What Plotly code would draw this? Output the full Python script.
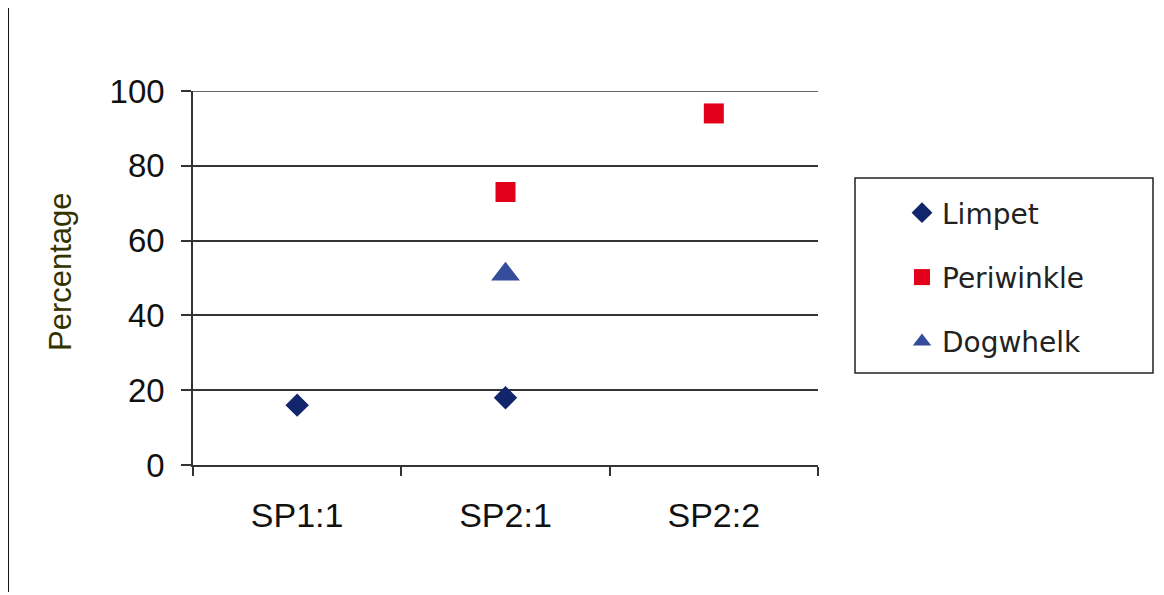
import plotly.graph_objects as go

categories = ["SP1:1", "SP2:1", "SP2:2"]
limpet = [16, 18, None]
periwinkle = [None, 73, 94]
dogwhelk = [None, 51, None]
y_ticks = [0, 20, 40, 60, 80, 100]

W, H = 1164, 595
OFF = 8  # page body offset
L, R, T, B = 193 - OFF, 818 - OFF, 91 - OFF, 465 - OFF

def px(x):
    return (x - OFF - L) / (R - L)

def py(y):
    return (B - (y - OFF)) / (B - T)

fig = go.Figure()
fig.add_trace(go.Scatter(x=categories, y=limpet, mode="markers", name="Limpet",
                         legendgroup="a",
                         marker=dict(symbol="diamond", size=18, color="#10256b",
                                     line=dict(width=0))))
fig.add_trace(go.Scatter(x=categories, y=periwinkle, mode="markers", name="Periwinkle",
                         legendgroup="b",
                         marker=dict(symbol="square", size=20, color="#e2001a",
                                     line=dict(width=0))))
fig.add_trace(go.Scatter(x=categories, y=dogwhelk, mode="markers", name="Dogwhelk",
                         legendgroup="c",
                         marker=dict(symbol="triangle-up", size=25, color="#354c9c",
                                     line=dict(width=0))))

fig.update_layout(
    width=W, height=H,
    margin=dict(l=L, r=W - R, t=T, b=H - B, pad=0),
    paper_bgcolor="white", plot_bgcolor="white",
    showlegend=True,
    legend=dict(x=px(902), y=py(188), xanchor="left", yanchor="top",
                font=dict(family="DejaVu Sans", size=28, color="#222222"),
                bgcolor="rgba(0,0,0,0)", borderwidth=0,
                tracegroupgap=25, itemsizing="trace"),
    xaxis=dict(type="category", range=[-0.5, 2.5], showgrid=False,
               showline=True, linecolor="#333333", linewidth=1.5,
               ticks="outside", tickson="boundaries", ticklen=9,
               tickcolor="#333333", tickwidth=1.5, ticklabelstandoff=19,
               tickfont=dict(family="Liberation Sans, Arial", size=34, color="#111111"),
               zeroline=False),
    yaxis=dict(range=[0, 100], tickvals=y_ticks, showgrid=True,
               gridcolor="#333333", gridwidth=1.5,
               showline=True, linecolor="#333333", linewidth=1.5,
               ticks="outside", ticklen=10, tickcolor="#333333", tickwidth=1.5,
               ticklabelstandoff=10,
               tickfont=dict(family="Liberation Sans, Arial", size=33, color="#111111"),
               zeroline=False),
    shapes=[
        dict(type="line", xref="paper", yref="y", x0=0, x1=1, y0=100, y1=100,
             line=dict(color="#333333", width=1.5)),
        dict(type="rect", xref="paper", yref="paper",
             x0=px(855), x1=px(1153), y0=py(373), y1=py(178),
             line=dict(color="#222222", width=1.5), fillcolor="rgba(0,0,0,0)"),
        dict(type="line", xref="paper", yref="paper",
             x0=px(8), x1=px(8), y0=py(OFF), y1=py(592),
             line=dict(color="#111111", width=2)),
    ],
    annotations=[
        dict(text="Percentage", xref="paper", yref="paper",
             x=px(60), y=py(272), xanchor="center", yanchor="middle",
             textangle=-90, showarrow=False,
             font=dict(family="Liberation Sans, Arial", size=31, color="#333300")),
    ],
)

fig.write_html("out.html")
